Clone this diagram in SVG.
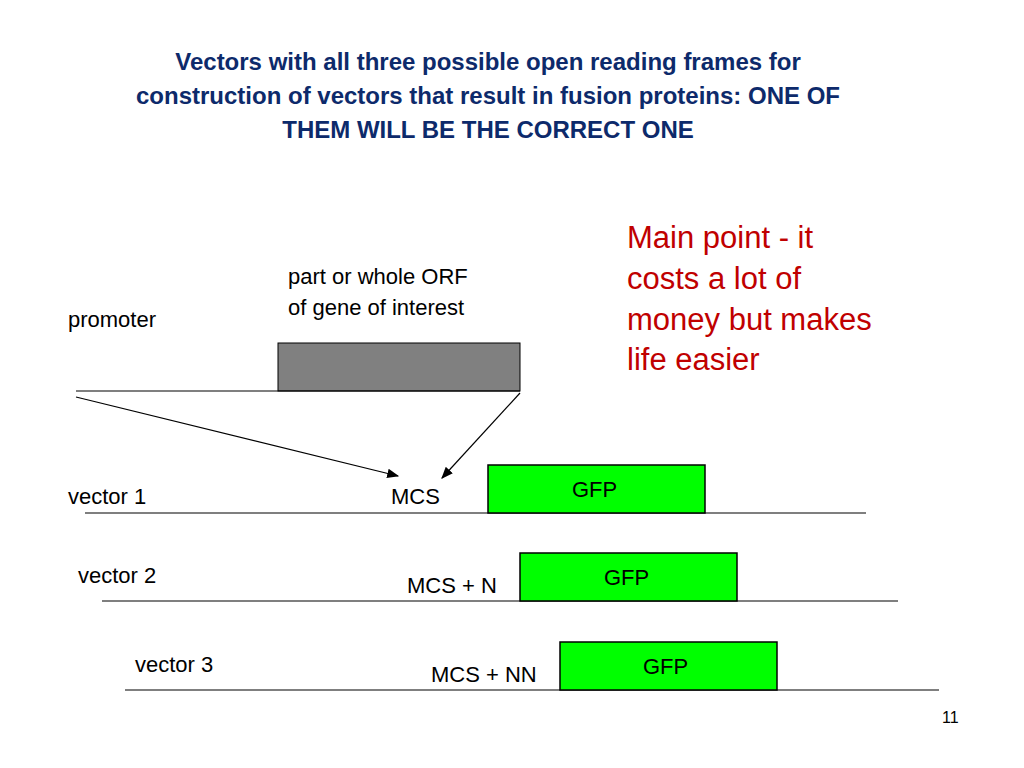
<svg xmlns="http://www.w3.org/2000/svg" width="1024" height="768" viewBox="0 0 1024 768">
<style>
.t{font-family:"Liberation Sans",Arial,sans-serif;font-size:22px;fill:#000}
.h{font-family:"Liberation Sans",Arial,sans-serif;font-size:24px;font-weight:bold;fill:#0d2a6b;text-anchor:middle}
.r{font-family:"Liberation Sans",Arial,sans-serif;font-size:31px;fill:#c00000}
.g{fill:#00ff00;stroke:#000;stroke-width:1.5}
line{stroke:#000;stroke-width:1.2}
</style>
<defs><marker id="a" markerWidth="10" markerHeight="8" refX="9" refY="4" orient="auto"><path d="M0,0L10,4L0,8z" fill="#000"/></marker></defs>
<rect width="1024" height="768" fill="#fff"/>
<text class="h" x="488" y="70">Vectors with all three possible open reading frames for</text>
<text class="h" x="488" y="104">construction of vectors that result in fusion proteins: ONE OF</text>
<text class="h" x="488" y="138">THEM WILL BE THE CORRECT ONE</text>
<text class="r" x="627" y="248">Main point - it</text>
<text class="r" x="627" y="289">costs a lot of</text>
<text class="r" x="627" y="330">money but makes</text>
<text class="r" x="627" y="370">life easier</text>
<g id="orf"><rect x="278" y="343" width="242" height="48" fill="#808080" stroke="#000"/>
<text class="t" x="288" y="284">part or whole ORF</text><text class="t" x="288" y="315">of gene of interest</text></g>
<g id="promoter"><line x1="76" y1="391" x2="520" y2="391"/><text class="t" x="68" y="327">promoter</text></g>
<g id="vector1"><line x1="85" y1="513" x2="866" y2="513"/><text class="t" x="68" y="504">vector 1</text><text class="t" x="391" y="504">MCS</text>
<rect class="g" x="488" y="465" width="217" height="48"/><text class="t" x="572" y="497">GFP</text></g>
<g id="vector2"><line x1="102" y1="601" x2="898" y2="601"/><text class="t" x="78" y="583">vector 2</text><text class="t" x="407" y="593">MCS + N</text>
<rect class="g" x="520" y="553" width="217" height="48"/><text class="t" x="604" y="585">GFP</text></g>
<g id="vector3"><line x1="125" y1="690" x2="939" y2="690"/><text class="t" x="135" y="672">vector 3</text><text class="t" x="431" y="682">MCS + NN</text>
<rect class="g" x="560" y="642" width="217" height="48"/><text class="t" x="643" y="674">GFP</text></g>
<g id="connectors"><line x1="76" y1="397" x2="398" y2="476" marker-end="url(#a)"/><line x1="520" y1="393" x2="442" y2="478" marker-end="url(#a)"/></g>
<text x="942" y="723" style="font-family:'Liberation Sans',Arial,sans-serif;font-size:16px">11</text>
</svg>
